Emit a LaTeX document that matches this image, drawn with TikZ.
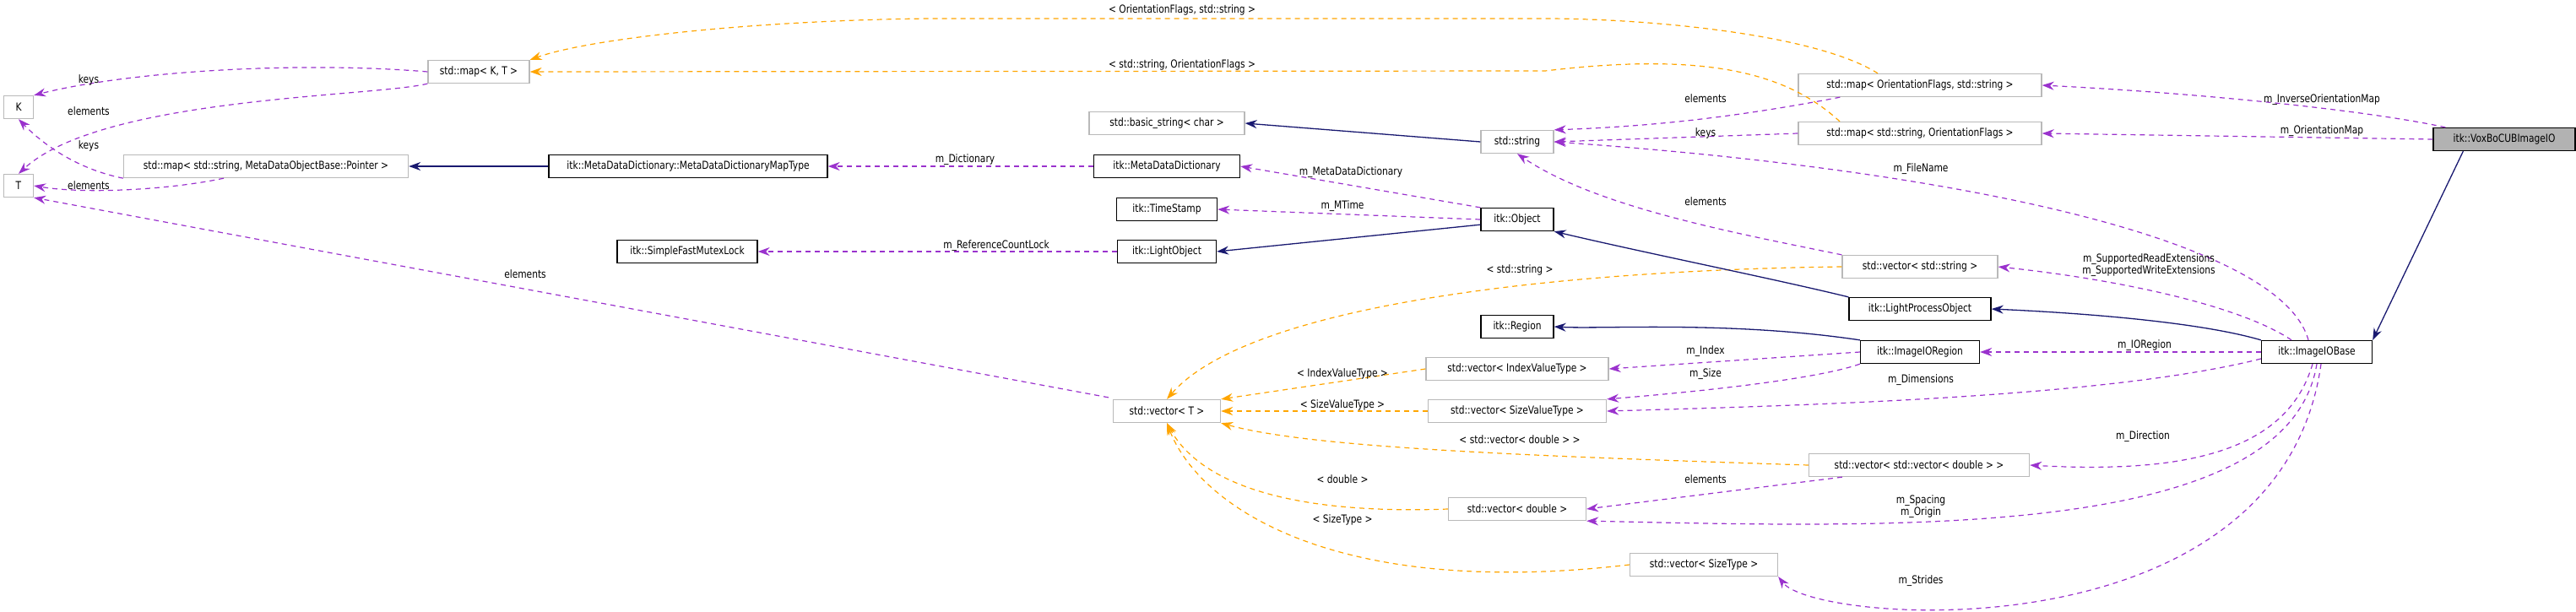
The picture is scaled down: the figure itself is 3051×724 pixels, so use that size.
\documentclass[tikz,border=0pt]{standalone}
\usepackage{fontspec}
\setmainfont{DejaVu Sans}[FakeStretch=0.82]
\usetikzlibrary{arrows.meta}
\definecolor{pur}{HTML}{9A32CD}
\definecolor{org}{HTML}{FFA500}
\definecolor{nav}{HTML}{191970}
\begin{document}
\begin{tikzpicture}[x=1pt,y=-1pt,
 box/.style={draw,minimum height=27pt,inner sep=0pt,font=\fontsize{13}{14}\selectfont,fill=white},
 cls/.style={box,draw=black,line width=1.3pt},
 tpl/.style={box,draw=gray!55,line width=1.3pt},
 lab/.style={font=\fontsize{13}{14}\selectfont,align=center,inner sep=1pt},
 use/.style={draw=pur,dashed,line width=1.2pt,dash pattern=on 6pt off 5pt,-{Stealth[length=14pt,width=10pt]}},
 tmp/.style={draw=org,dashed,line width=1.2pt,dash pattern=on 6pt off 5pt,-{Stealth[length=14pt,width=10pt]}},
 inh/.style={draw=nav,line width=1.3pt,-{Stealth[length=14pt,width=10pt]}}]
\useasboundingbox (0,0) rectangle (3051,724);
% nodes
\node[tpl,minimum width=35pt] (K) at (22,127) {K};
\node[tpl,minimum width=35pt] (T) at (22,220) {T};
\node[tpl,minimum width=120pt] (mapKT) at (567,85) {std::map< K, T >};
\node[tpl,minimum width=337pt] (mapMD) at (315,197) {std::map< std::string, MetaDataObjectBase::Pointer >};
\node[cls,minimum width=330pt] (MapType) at (815,197) {itk::MetaDataDictionary::MetaDataDictionaryMapType};
\node[cls,minimum width=166pt] (SFML) at (814,298) {itk::SimpleFastMutexLock};
\node[tpl,minimum width=184pt] (bstr) at (1382,146) {std::basic\_string< char >};
\node[tpl,minimum width=86pt] (str) at (1797,168) {std::string};
\node[cls,minimum width=173pt] (MDD) at (1382,197) {itk::MetaDataDictionary};
\node[cls,minimum width=119pt] (TS) at (1382,248) {itk::TimeStamp};
\node[cls,minimum width=117pt] (LO) at (1382,298) {itk::LightObject};
\node[cls,minimum width=86pt] (Obj) at (1797,260) {itk::Object};
\node[tpl,minimum width=288pt] (mapOF) at (2274,101) {std::map< OrientationFlags, std::string >};
\node[tpl,minimum width=288pt] (mapSO) at (2274,158) {std::map< std::string, OrientationFlags >};
\node[cls,minimum width=168pt,fill=gray!60] (Vox) at (2966,165) {itk::VoxBoCUBImageIO};
\node[tpl,minimum width=184pt] (vecS) at (2274,316) {std::vector< std::string >};
\node[cls,minimum width=168pt] (LPO) at (2274,366) {itk::LightProcessObject};
\node[cls,minimum width=141pt] (IOR) at (2274,417) {itk::ImageIORegion};
\node[cls,minimum width=131pt] (IOB) at (2744,417) {itk::ImageIOBase};
\node[cls,minimum width=86pt] (Reg) at (1797,387) {itk::Region};
\node[tpl,minimum width=216pt] (vIVT) at (1797,437) {std::vector< IndexValueType >};
\node[tpl,minimum width=211pt] (vSVT) at (1797,487) {std::vector< SizeValueType >};
\node[tpl,minimum width=127pt] (vT) at (1382,487) {std::vector< T >};
\node[tpl,minimum width=261pt] (vVD) at (2273,551) {std::vector< std::vector< double > >};
\node[tpl,minimum width=163pt] (vD) at (1797,603) {std::vector< double >};
\node[tpl,minimum width=175pt] (vST) at (2018,669) {std::vector< SizeType >};
% edges
\draw[inh] (Vox.south west) ++(36,0) coordinate (v1) -- (IOB.north east) ;
\draw[use] (Vox.north west) ++(15,0) coordinate (v2) .. controls (2800,130) and (2600,110) .. (mapOF.east);
\node[lab] at (2750,118) {m\_InverseOrientationMap};
\draw[use] (Vox.west) -- (mapSO.east);
\node[lab] at (2750,155) {m\_OrientationMap};
\draw[use] (mapOF.south west) ++(50,0) coordinate (o1) .. controls (2050,140) and (1950,150) .. (str.north east);
\node[lab] at (2020,117) {elements};
\draw[use] (mapSO.west) -- (str.east);
\node[lab] at (2020,158) {keys};
\draw[tmp] (mapOF.north) ++(-50,0) coordinate (o2) .. controls (2150,40) and (1950,22) .. (1830,22) -- (1100,22) .. controls (900,24) and (700,45) .. (mapKT.north east);
\node[lab] at (1400,12) {< OrientationFlags, std::string >};
\draw[tmp] (mapSO.north) ++(-95,0) coordinate (o3) .. controls (2120,90) and (2030,60) .. (1830,84) -- (mapKT.east);
\node[lab] at (1400,77) {< std::string, OrientationFlags >};
\draw[use] (mapKT.west) .. controls (350,72) and (150,85) .. (K.north east);
\node[lab] at (105,95) {keys};
\draw[use] (mapKT.south west) .. controls (440,115) and (120,115) .. (T.north);
\node[lab] at (105,132) {elements};
\draw[use] (mapMD.south west) .. controls (90,200) and (50,170) .. (K.south);
\node[lab] at (105,173) {keys};
\draw[use] (mapMD.south) ++(-50,0) coordinate (m1) .. controls (200,225) and (100,230) .. (T.east);
\node[lab] at (105,220) {elements};
\draw[use] (vT.north west) ++(-5,-2) coordinate (t1) -- (T.south east);
\node[lab] at (622,325) {elements};
\draw[inh] (MapType.west) -- (mapMD.east);
\draw[use] (MDD.west) -- (MapType.east);
\node[lab] at (1143,189) {m\_Dictionary};
\draw[use] (Obj.north west) -- (MDD.east);
\node[lab] at (1600,204) {m\_MetaDataDictionary};
\draw[use] (Obj.west) -- (TS.east);
\node[lab] at (1590,244) {m\_MTime};
\draw[inh] (Obj.south west) ++(0,-8) coordinate (b1) -- (LO.east);
\draw[use] (LO.west) -- (SFML.east);
\node[lab] at (1180,291) {m\_ReferenceCountLock};
\draw[inh] (str.west) -- (bstr.east);
\draw[use] (vecS.north west) .. controls (2050,275) and (1890,245) .. (str.south);
\node[lab] at (2020,239) {elements};
\draw[use] (IOB.north) ++(-10,0) coordinate (i1) .. controls (2700,280) and (2300,200) .. (str.east);
\node[lab] at (2275,200) {m\_FileName};
\draw[tmp] (vecS.west) .. controls (1850,320) and (1480,360) .. (vT.north);
\node[lab] at (1800,320) {< std::string >};
\draw[inh] (LPO.north west) .. controls (2100,330) and (1950,300) .. (Obj.south east);
\draw[use] (IOB.north) ++(-30,0) coordinate (i2) .. controls (2650,360) and (2500,330) .. (vecS.east);
\node[lab] at (2545,314) {m\_SupportedReadExtensions\\m\_SupportedWriteExtensions};
\draw[inh] (IOB.north west) .. controls (2600,380) and (2450,370) .. (LPO.east);
\draw[inh] (IOR.north west) .. controls (2050,380) and (1900,390) .. (Reg.east);
\draw[use] (IOB.west) -- (IOR.east);
\node[lab] at (2540,409) {m\_IORegion};
\draw[use] (IOR.west) -- (vIVT.east);
\node[lab] at (2020,416) {m\_Index};
\draw[use] (IOR.south west) .. controls (2150,450) and (2000,465) .. (vSVT.north east);
\node[lab] at (2020,443) {m\_Size};
\draw[use] (IOB.west) ++(0,8) coordinate (i3) .. controls (2500,470) and (2150,480) .. (vSVT.east);
\node[lab] at (2275,450) {m\_Dimensions};
\draw[tmp] (vIVT.west) -- (vT.north east);
\node[lab] at (1590,443) {< IndexValueType >};
\draw[tmp] (vSVT.west) -- (vT.east);
\node[lab] at (1590,480) {< SizeValueType >};
\draw[tmp] (vVD.west) .. controls (1800,540) and (1550,530) .. (vT.south east);
\node[lab] at (1800,521) {< std::vector< double > >};
\draw[use] (IOB.south) ++(-5,0) coordinate (i4) .. controls (2710,530) and (2600,562) .. (vVD.east);
\node[lab] at (2538,517) {m\_Direction};
\draw[use] (vVD.south west) ++(40,0) coordinate (d1) -- (vD.east);
\node[lab] at (2020,568) {elements};
\draw[tmp] (vD.west) .. controls (1520,610) and (1420,570) .. (vT.south);
\node[lab] at (1590,568) {< double >};
\draw[use] (IOB.south) .. controls (2710,640) and (2250,625) .. (vD.south east);
\node[lab] at (2275,600) {m\_Spacing\\m\_Origin};
\draw[tmp] (vST.west) .. controls (1580,710) and (1420,600) .. (vT.south);
\node[lab] at (1590,616) {< SizeType >};
\draw[use] (IOB.south) ++(5,0) coordinate (i5) .. controls (2700,780) and (2150,740) .. (vST.south east);
\node[lab] at (2275,688) {m\_Strides};
\end{tikzpicture}
\end{document}
